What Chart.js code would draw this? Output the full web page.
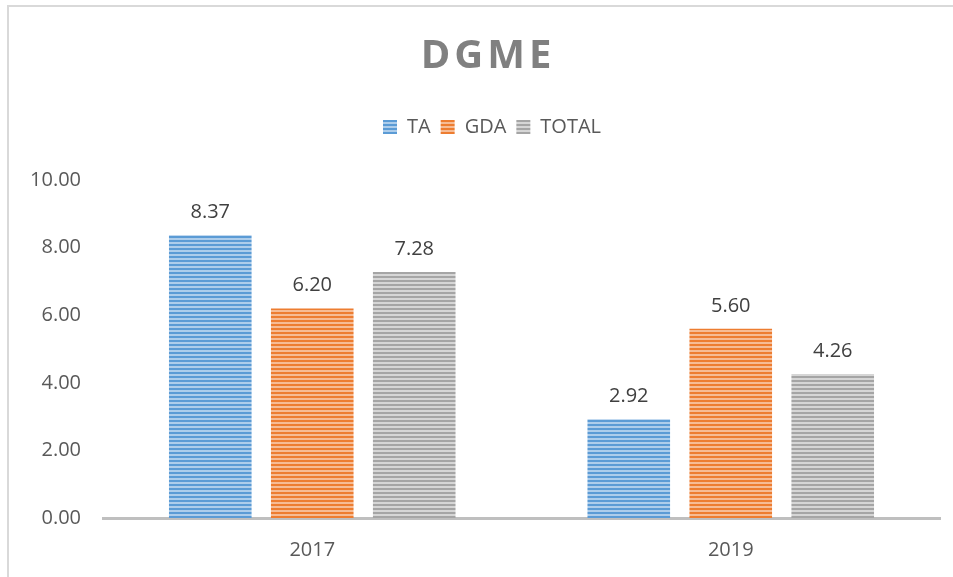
<!DOCTYPE html>
<html><head><meta charset="utf-8">
<script src="https://cdn.jsdelivr.net/npm/chart.js@4.4.1/dist/chart.umd.min.js"></script>
<style>
html,body{margin:0;padding:0;background:#fff;width:953px;height:577px;overflow:hidden}
#frame{position:absolute;left:7px;top:5px;width:980px;height:620px;border-left:2px solid #D9D9D9;border-top:2px solid #D9D9D9;box-sizing:border-box}
#wrap{position:absolute;left:0;top:0;width:953px;height:577px}
</style></head>
<body>
<div id="frame"></div>
<div id="wrap"><canvas id="c" width="953" height="577"></canvas></div>
<script>
const chartTitle = 'DGME';
const categories = ['2017', '2019'];
const seriesNames = ['TA', 'GDA', 'TOTAL'];
const taValues = [8.37, 2.92];
const gdaValues = [6.20, 5.60];
const totalValues = [7.28, 4.26];
const yTickMin = 0, yTickMax = 10, yTickStep = 2;

const FONT = "'Open Sans', 'Noto Sans', sans-serif";

function stripes(dark, light) {
  const c = document.createElement('canvas');
  c.width = 4; c.height = 4;
  const x = c.getContext('2d');
  x.fillStyle = light; x.fillRect(0, 0, 4, 4);
  x.fillStyle = dark; x.fillRect(0, 0, 4, 2);
  return x.createPattern(c, 'repeat');
}
const ctx = document.getElementById('c').getContext('2d');
const fills = [
  stripes('#5B9BD5', '#ADCDEB'),
  stripes('#ED7D31', '#F6BC95'),
  stripes('#A5A5A5', '#D6D6D6')
];
const seriesValues = [taValues, gdaValues, totalValues];

const titlePlugin = {
  id: 'spacedTitle',
  afterLayout(chart) {
    const lg = chart.legend;
    if (lg) {
      const l = 44, r = 940;
      lg.left = l; lg.right = r; lg.width = r - l;
    }
  },
  afterDraw(chart) {
    const c = chart.ctx;
    c.save();
    c.font = "bold 40px " + FONT;
    c.fillStyle = '#808080';
    c.textAlign = 'center';
    c.textBaseline = 'middle';
    const sp = 4;
    try { c.letterSpacing = sp + 'px'; } catch (e) {}
    c.fillText(chartTitle, 486 + sp / 2, 57);
    c.restore();
  }
};

const labelPlugin = {
  id: 'valueLabels',
  afterDatasetsDraw(chart) {
    const c = chart.ctx;
    c.save();
    c.font = "20px " + FONT;
    c.fillStyle = '#404040';
    c.textAlign = 'center';
    c.textBaseline = 'middle';
    chart.data.datasets.forEach((ds, i) => {
      chart.getDatasetMeta(i).data.forEach((el, j) => {
        c.fillText(ds.data[j].toFixed(2), el.x, el.y - 23);
      });
    });
    c.restore();
  }
};

new Chart(ctx, {
  type: 'bar',
  data: {
    labels: categories,
    datasets: seriesNames.map((n, i) => ({
      label: n,
      data: seriesValues[i],
      backgroundColor: fills[i],
      borderWidth: 0,
      barPercentage: 0.81,
      categoryPercentage: 0.731
    }))
  },
  options: {
    responsive: false,
    devicePixelRatio: 1,
    animation: false,
    layout: { padding: { top: 107, left: 0, right: 13, bottom: 15 } },
    plugins: {
      title: { display: false },
      subtitle: { display: true, text: '', weight: 100, font: { size: 1 }, padding: { top: 0, bottom: 32 } },
      legend: {
        position: 'top',
        labels: {
          boxWidth: 14, boxHeight: 14, padding: 10,
          color: '#595959',
          font: { size: 20, family: FONT }
        }
      },
      tooltip: { enabled: false }
    },
    scales: {
      x: {
        grid: { display: false, drawTicks: false },
        border: { display: true, color: '#BFBFBF', width: 3 },
        ticks: { color: '#595959', font: { size: 20, family: FONT }, padding: 20 },
        afterFit(scale) { scale.height = 44; }
      },
      y: {
        min: yTickMin, max: yTickMax,
        grid: { display: false, drawTicks: false },
        border: { display: false },
        ticks: {
          stepSize: yTickStep,
          color: '#595959',
          font: { size: 20, family: FONT },
          padding: 22,
          callback: v => Number(v).toFixed(2)
        },
        afterFit(scale) { scale.width = 103; }
      }
    }
  },
  plugins: [titlePlugin, labelPlugin]
});
</script>
</body></html>
